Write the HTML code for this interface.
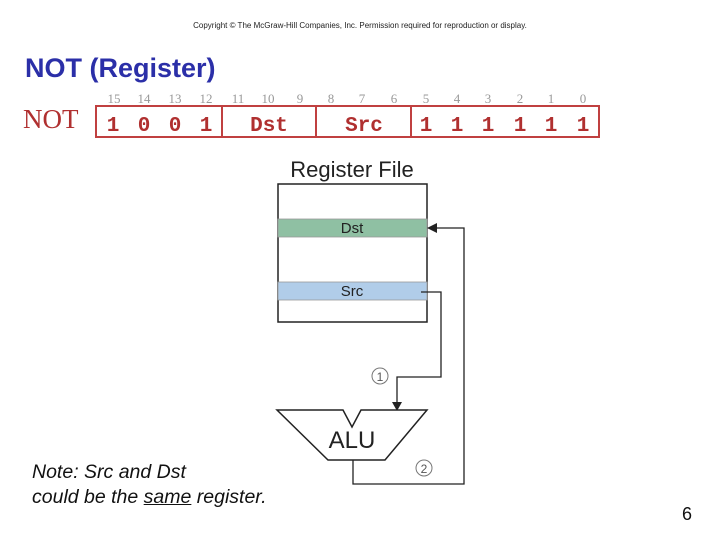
<!DOCTYPE html>
<html><head><style>
body{margin:0;width:720px;height:540px;background:#fff;overflow:hidden;position:relative;font-family:"Liberation Sans",sans-serif}
.a{position:absolute;white-space:nowrap}
</style></head><body>
<div class="a" style="left:0;width:720px;text-align:center;top:21px;font-size:8px;color:#222">Copyright © The McGraw-Hill Companies, Inc. Permission required for reproduction or display.</div>
<div class="a" style="left:25px;top:53px;font-size:27px;font-weight:bold;color:#2b2fa8">NOT (Register)</div>
<div class="a" style="left:23px;top:104px;font-size:27px;font-family:'Liberation Serif',serif;color:#b03030">NOT</div>
<svg width="720" height="540" style="position:absolute;left:0;top:0">
<g font-family="Liberation Serif" font-size="13" fill="#999" text-anchor="middle">
<text x="114" y="103">15</text><text x="144" y="103">14</text><text x="175" y="103">13</text><text x="206" y="103">12</text>
<text x="238" y="103">11</text><text x="268" y="103">10</text><text x="300" y="103">9</text>
<text x="331" y="103">8</text><text x="362" y="103">7</text><text x="394" y="103">6</text>
<text x="426" y="103">5</text><text x="457" y="103">4</text><text x="488" y="103">3</text><text x="520" y="103">2</text><text x="551" y="103">1</text><text x="583" y="103">0</text>
</g>
<rect x="96" y="106" width="503" height="31" fill="none" stroke="#c04040" stroke-width="2"/>
<g stroke="#c04040" stroke-width="2"><line x1="222" y1="106" x2="222" y2="137"/><line x1="316" y1="106" x2="316" y2="137"/><line x1="411" y1="106" x2="411" y2="137"/></g>
<g font-family="Liberation Mono" font-weight="bold" font-size="21" fill="#b03030" text-anchor="middle">
<text x="113" y="131">1</text><text x="144" y="131">0</text><text x="175" y="131">0</text><text x="206" y="131">1</text>
<text x="269" y="131">Dst</text><text x="364" y="131">Src</text>
<text x="426" y="131">1</text><text x="457" y="131">1</text><text x="488" y="131">1</text><text x="520" y="131">1</text><text x="551" y="131">1</text><text x="583" y="131">1</text>
</g>
<text x="352" y="177" font-size="22" text-anchor="middle" fill="#222">Register File</text>
<rect x="278" y="184" width="149" height="138" fill="#fff" stroke="#222" stroke-width="1.5"/>
<rect x="278" y="219" width="149" height="18" fill="#8fc0a3" stroke="#999" stroke-width="0.8"/>
<rect x="278" y="282" width="149" height="18" fill="#b1cde9" stroke="#999" stroke-width="0.8"/>
<text x="352" y="233" font-size="15" text-anchor="middle" fill="#222">Dst</text>
<text x="352" y="296" font-size="15" text-anchor="middle" fill="#222">Src</text>
<polyline points="421,292 441,292 441,377 397,377 397,404" fill="none" stroke="#222" stroke-width="1.3"/>
<polygon points="392,402 402,402 397,411" fill="#222"/>
<polyline points="353,460 353,484 464,484 464,228 436,228" fill="none" stroke="#222" stroke-width="1.3"/>
<polygon points="427,228 437,223 437,233" fill="#222"/>
<polygon points="277,410 343,410 352,427 361,410 427,410 385,460 328,460" fill="#fff" stroke="#222" stroke-width="1.5"/>
<text x="352" y="448" font-size="24" text-anchor="middle" fill="#222">ALU</text>
<circle cx="380" cy="376" r="8" fill="#fff" stroke="#777"/><text x="380" y="381" font-size="12" text-anchor="middle" fill="#555">1</text>
<circle cx="424" cy="468" r="8" fill="#fff" stroke="#777"/><text x="424" y="473" font-size="12" text-anchor="middle" fill="#555">2</text>
</svg>
<div class="a" style="left:32px;top:460px;font-size:19.5px;font-style:italic;color:#111;line-height:25px">Note: Src and Dst<br>could be the <u>same</u> register.</div>
<div class="a" style="left:682px;top:504px;font-size:18px;color:#111">6</div>
</body></html>
